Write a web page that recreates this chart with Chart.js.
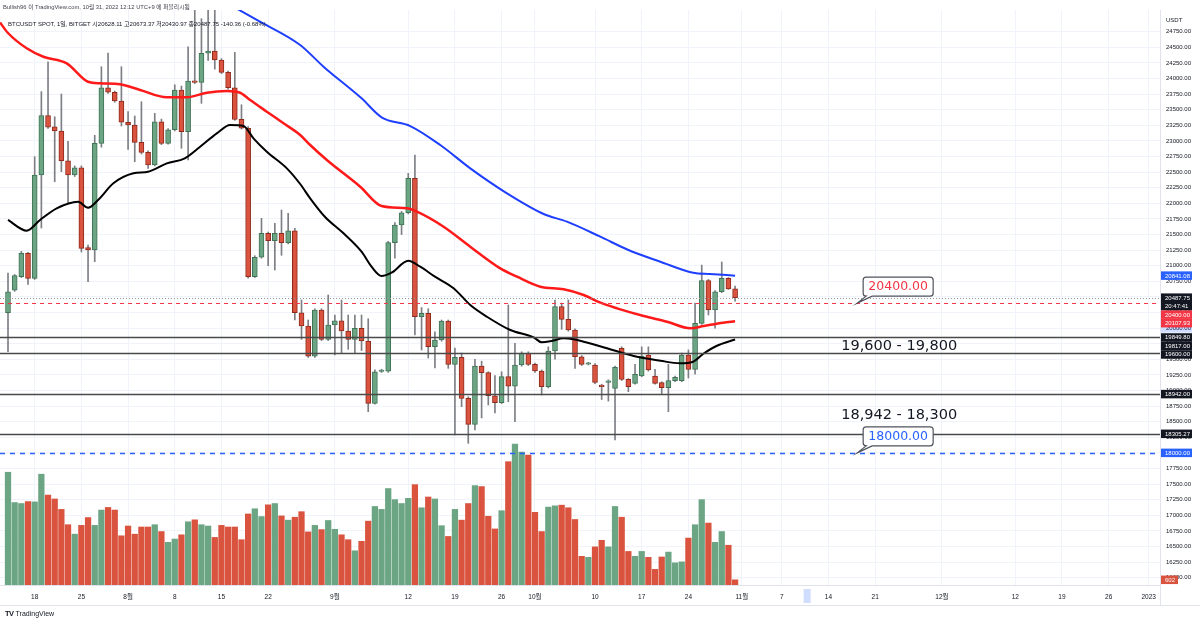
<!DOCTYPE html>
<html lang="ko">
<head>
<meta charset="UTF-8" />
<title>BTCUSDT SPOT, 1일, BITGET</title>
<script src="https://cdn.jsdelivr.net/npm/chart.js"></script>
<style>
  body { margin: 0; background: #ffffff; font-family: 'Liberation Sans', 'Noto Sans CJK KR', sans-serif; }
  .wrap { position: relative; width: 1200px; height: 620px; overflow: hidden; }
  canvas { position: absolute; left: 0; top: 0; }
  .header { position: absolute; left: 3px; top: 2px; font-size: 5.8px; color: #434651; white-space: nowrap; }
  .legend { position: absolute; left: 8px; top: 19px; font-size: 6px; color: #131722; white-space: nowrap; }
  .logo { position: absolute; left: 5px; top: 609px; font-size: 7px; color: #131722; white-space: nowrap; }
  .logo b { font-size: 7.5px; letter-spacing: -0.5px; margin-right: 2px; }
</style>
</head>
<body>
<div class="wrap">
  <canvas id="btc" width="1200" height="620"></canvas>
  <div class="header">Bullish96 이 TradingView.com, 10월 31, 2022 12:12 UTC+9 에 퍼블리시됨</div>
  <div class="legend" id="legend"></div>
  <div class="logo"><b>TV</b>TradingView</div>
</div>
<script>
  // daily candles, index 0 = 2022-07-14
  const opens = [20246, 20607, 20824, 21199, 20798, 22454, 23405, 23228, 23159, 22683,
    22454, 22571, 21289, 21252, 22962, 23853, 23780, 23640, 23299, 23255,
    22978, 22818, 22614, 23308, 22962, 23180, 23817, 23148, 23960, 23940,
    24405, 24440, 24297, 24100, 23853, 23347, 23203, 20824, 21135, 21519,
    21400, 21519, 21368, 21561, 20246, 20033, 19552, 20290, 19820, 20049,
    20118, 19953, 19820, 19996, 19793, 18794, 19305, 19310, 21369, 21652,
    21849, 22400, 20182, 20237, 19702, 19809, 20113, 19419, 19532, 18874,
    18458, 19392, 19285, 18916, 18804, 19221, 19071, 19408, 19596, 19419,
    19312, 19060, 19633, 20343, 20141, 19969, 19541, 19420, 19408, 19088,
    19131, 19035, 19676, 19179, 19115, 19232, 19568, 19232, 19125, 19045,
    19157, 19157, 19568, 19339, 20077, 20760, 20290, 20583, 20798, 20628.11];
  const highs = [20883, 20860, 21230, 21215, 22747, 23790, 24270, 23388, 23752, 22995,
    22600, 22600, 21330, 23090, 24190, 24408, 23800, 24190, 23469, 23400,
    23629, 22840, 23443, 23350, 23200, 23900, 23880, 24510, 25150, 24960,
    25150, 25150, 24320, 24120, 24420, 23580, 23230, 21160, 21760, 21540,
    21680, 21893, 21840, 21600, 20450, 20130, 20310, 20310, 20530, 20209,
    20450, 20210, 20210, 20210, 20150, 19330, 19340, 21390, 21690, 21870,
    22480, 22775, 20330, 20310, 19942, 20130, 20130, 19680, 19600, 18900,
    19500, 19470, 19300, 19240, 19300, 20370, 19756, 19620, 19620, 19440,
    19330, 19700, 20450, 20400, 20450, 19990, 19560, 19450, 19430, 19100,
    19170, 19390, 19700, 19190, 19420, 19700, 19700, 19340, 19140, 19420,
    19230, 19600, 19650, 20400, 21010, 20780, 20600, 21060, 20810, 20673.37];
  const lows = [19622, 20590, 20810, 20700, 20780, 21604, 23200, 22346, 22507, 22010,
    22430, 21220, 20744, 21064, 22900, 23760, 23620, 23239, 22866, 22667,
    22790, 22561, 22600, 22940, 22950, 23160, 22882, 22694, 23920, 23603,
    24290, 24150, 24080, 23830, 23330, 23190, 20800, 20810, 21120, 21000,
    20931, 21167, 21350, 20130, 19820, 19530, 19530, 19800, 19800, 19569,
    19600, 19660, 19605, 19640, 18660, 18780, 19290, 19290, 21120, 21500,
    21830, 19889, 19649, 19520, 19360, 19790, 19355, 18287, 18740, 18153,
    18366, 18560, 18767, 18640, 18790, 18820, 18499, 19390, 19400, 19290,
    18927, 19040, 19500, 19980, 19950, 19355, 19400, 19410, 19110, 18855,
    18830, 18206, 19160, 18980, 19100, 19220, 19310, 19100, 18950, 18660,
    19140, 19140, 19200, 19260, 20060, 20210, 20000, 20570, 20620, 20430.97];
  const closes = [20583, 20840, 21199, 20798, 22454, 23405, 23219, 23159, 22683, 22454,
    22571, 21279, 21252, 22962, 23853, 23780, 23640, 23299, 23255, 22978,
    22818, 22614, 23308, 22962, 23180, 23817, 23148, 23960, 23940, 24405,
    24440, 24297, 24100, 23853, 23347, 23203, 20824, 21135, 21519, 21400,
    21519, 21368, 21561, 20246, 20033, 19552, 20290, 19820, 20049, 20118,
    19953, 19820, 19996, 19793, 18794, 19301, 19315, 21369, 21652, 21849,
    22400, 20182, 20237, 19702, 19809, 20113, 19419, 19532, 18874, 18458,
    19392, 19285, 18916, 18804, 19221, 19071, 19408, 19596, 19419, 19312,
    19060, 19633, 20343, 20141, 19969, 19541, 19419, 19435, 19131, 19060,
    19152, 19371, 19179, 19060, 19260, 19553, 19328, 19115, 19045, 19157,
    19211, 19568, 19339, 20077, 20760, 20290, 20583, 20798, 20628.11, 20487.75];
  const volumes = [13080, 9563, 9450, 9677, 9639, 12852, 10433, 9979, 8770, 6993,
    5897, 6917, 7825, 6917, 8694, 8996, 8694, 5708, 6842, 5897,
    6728, 6728, 6993, 6199, 4952, 5330, 5821, 7333, 7560, 6993,
    6842, 5519, 6917, 6728, 6728, 5254, 8240, 8845, 7938, 9299,
    9450, 8014, 7522, 7862, 8505, 6161, 6917, 6426, 7484, 6464,
    5821, 5254, 3969, 5065, 7409, 9110, 8770, 11189, 9904, 9450,
    10055, 11642, 8959, 10206, 9979, 6880, 5632, 8770, 7522, 9450,
    11529, 11416, 7976, 6502, 8618, 14303, 16356, 15428, 15080, 8429,
    6199, 9034, 9185, 9261, 8959, 7598, 3326, 3213, 4423, 5179,
    4423, 9110, 7862, 3893, 3326, 3893, 3213, 1814, 3251, 3818,
    2570, 2684, 5443, 6993, 9904, 7182, 4952, 6199, 4612, 602];

  // moving averages at these candle positions
  const blackMaIdx = [0, 2.8, 4.8, 7.3, 10.5, 12, 13.5, 15.8, 18.8, 21, 23.8, 26.5, 28.8, 31.3, 33.3, 35.3, 36.8, 38.8,
    41.8, 43.8, 45.3, 47.5, 50.3, 53, 54.5, 56, 57.5, 60, 61.8, 64, 66.8, 69.3, 71.8, 75.3, 78.8, 80, 81.5, 83.3,
    84.8, 86.3, 89.8, 93.8, 97.8, 100.7, 102.7, 104.2, 106.2, 109];
  const blackMaVal = [21733, 21561, 21733, 21920, 22026, 21930, 22053, 22321, 22481, 22507, 22641, 22722, 22908,
    23122, 23255, 23239, 23042, 22827, 22561, 22310, 22080, 21785, 21519, 21224, 20984, 20835, 20888, 21080,
    20984, 20824, 20638, 20370, 20182, 19969, 19852, 19772, 19793, 19836, 19820, 19782, 19676, 19553, 19477,
    19435, 19461, 19585, 19713, 19817];
  const redMaIdx = [-1.2, 0, 2.8, 5.3, 8.8, 12, 13.8, 16.8, 19.8, 23.8, 26.8, 29.8, 32.8, 34.8, 36.3, 38.8, 41.3,
    43.8, 45.3, 47.8, 52.8, 56, 59.8, 61.3, 65.3, 69.3, 73.8, 76.3, 79.8, 83.3, 86.3, 88.8, 91.3, 95.3, 98.8,
    102.3, 104.3, 107.2, 109];
  const redMaVal = [24900, 24730, 24485, 24350, 24244, 23949, 23924, 23908, 23817, 23700, 23700, 23773, 23800,
    23773, 23656, 23469, 23283, 23095, 22935, 22694, 22266, 21957, 21920, 21866, 21625, 21305, 20958, 20824,
    20663, 20622, 20530, 20407, 20317, 20194, 20102, 19997, 20033, 20086, 20107.93];
  const blueMaIdx = [34, 37.3, 43.8, 47.3, 53, 56, 60.3, 64.8, 69.3, 74.8, 80.3, 83.8, 88.8, 93, 97.8, 102.7, 105.2, 109];
  const blueMaVal = [25140, 24939, 24538, 24190, 23683, 23379, 23239, 22935, 22561, 22161, 21829, 21706, 21465,
    21252, 21064, 20888, 20867, 20841.08];

  // drawn levels
  const levelPrices = [19849.8, 19600, 18942, 18305.27];
  const targetHigh = 20400;
  const targetLow = 18000;
  const rangeLabels = ['19,600 - 19,800', '18,942 - 18,300'];
  const rangeLabelPrices = [19710, 18607];

  // axis ticks
  const dateTickIdx = [4, 11, 18, 25, 32, 39, 49, 60, 67, 74, 79, 88, 95, 102, 110, 116, 123, 130, 140, 151, 158, 165, 171];
  const dateTickLabels = ['18', '25', '8월', '8', '15', '22', '9월', '12', '19', '26', '10월', '10', '17', '24',
    '11월', '7', '14', '21', '12월', '12', '19', '26', '2023'];
  const priceTicks = [];
  for (let p = 16000; p <= 24750; p += 250) priceTicks.push(p);

  const GREEN = '#6ba583', GREEN_EDGE = '#3f7356';
  const RED = '#d9533f', RED_EDGE = '#8e2a1c';
  const last = closes.length - 1;
  const up = closes.map((c, i) => c >= opens[i]);

  const chg = closes[last] - closes[last - 1];
  document.getElementById('legend').textContent =
    'BTCUSDT SPOT, 1일, BITGET  시' + opens[last].toFixed(2) + ' 고' + highs[last].toFixed(2) +
    ' 저' + lows[last].toFixed(2) + ' 종' + closes[last].toFixed(2) + ' ' + chg.toFixed(2) +
    ' (' + (chg / closes[last - 1] * 100).toFixed(2) + '%)';

  const clipArea = (ctx, a) => { ctx.beginPath(); ctx.rect(a.left, a.top, a.width, a.height); ctx.clip(); };

  const levelPlugin = {
    id: 'levels',
    afterDatasetsDraw(chart) {
      const { ctx, chartArea: a, scales: { y } } = chart;
      ctx.save();
      clipArea(ctx, a);
      const hline = (price, color, width, dash) => {
        const py = Math.round(y.getPixelForValue(price)) + 0.5;
        ctx.beginPath();
        ctx.setLineDash(dash);
        ctx.strokeStyle = color;
        ctx.lineWidth = width;
        ctx.moveTo(a.left, py);
        ctx.lineTo(a.right, py);
        ctx.stroke();
      };
      hline(closes[last], '#9598a1', 1, [1, 2]);
      hline(targetHigh, '#f23645', 1, [4, 4]);
      hline(targetLow, '#2962ff', 1.5, [5, 5]);
      levelPrices.forEach(p => hline(p, '#4a4a4a', 1.5, []));
      ctx.restore();
    }
  };

  const notePlugin = {
    id: 'notes',
    afterDatasetsDraw(chart) {
      const { ctx, scales: { x, y } } = chart;
      ctx.save();
      const callout = (idx, price, color) => {
        const ax = x.getPixelForValue(idx), ay = y.getPixelForValue(price);
        const l = ax + 6, b = ay - 7, w = 70, h = 19, t = b - h, r = 3;
        ctx.beginPath();
        ctx.moveTo(l + r, t);
        ctx.lineTo(l + w - r, t);
        ctx.quadraticCurveTo(l + w, t, l + w, t + r);
        ctx.lineTo(l + w, b - r);
        ctx.quadraticCurveTo(l + w, b, l + w - r, b);
        ctx.lineTo(l + 9, b);
        ctx.lineTo(ax, ay);
        ctx.lineTo(l + 3, b);
        ctx.quadraticCurveTo(l, b, l, b - r);
        ctx.lineTo(l, t + r);
        ctx.quadraticCurveTo(l, t, l + r, t);
        ctx.closePath();
        ctx.fillStyle = '#ffffff';
        ctx.fill();
        ctx.strokeStyle = '#50535e';
        ctx.lineWidth = 1.2;
        ctx.stroke();
        ctx.fillStyle = color;
        ctx.font = '12.5px "DejaVu Sans"';
        ctx.textAlign = 'center';
        ctx.textBaseline = 'middle';
        ctx.fillText(price.toFixed(2), l + w / 2, t + h / 2 + 0.5);
      };
      callout(127.3, targetHigh, '#f23645');
      callout(127.3, targetLow, '#2962ff');
      ctx.fillStyle = '#131722';
      ctx.font = '14.5px "DejaVu Sans"';
      ctx.textAlign = 'center';
      ctx.textBaseline = 'middle';
      rangeLabels.forEach((s, i) => ctx.fillText(s, x.getPixelForValue(133.6), y.getPixelForValue(rangeLabelPrices[i])));
      ctx.restore();
    }
  };

  const tagPlugin = {
    id: 'tags',
    afterDraw(chart) {
      const { ctx, chartArea: a, scales: { x, y, v } } = chart;
      ctx.save();
      // frame lines
      ctx.strokeStyle = '#e0e3eb';
      ctx.lineWidth = 1;
      ctx.beginPath();
      ctx.moveTo(0, 605.5); ctx.lineTo(1200, 605.5);
      ctx.moveTo(a.right + 0.5, a.bottom); ctx.lineTo(a.right + 0.5, 605);
      ctx.stroke();
      // selection marks on both axes
      ctx.fillStyle = 'rgba(41,98,255,0.22)';
      const sx = x.getPixelForValue(119.8);
      ctx.fillRect(sx - 3.5, a.bottom + 4, 7, 14);
      ctx.fillRect(a.right + 1, y.getPixelForValue(20000) - 4.5, 31, 9);

      ctx.font = '6px "Liberation Sans"';
      ctx.textBaseline = 'middle';
      ctx.textAlign = 'left';
      ctx.fillStyle = '#131722';
      ctx.fillText('USDT', a.right + 6, a.top + 10);

      const tags = [
        { p: y.getPixelForValue(blueMaVal[blueMaVal.length - 1]), bg: '#2962ff', t: blueMaVal[blueMaVal.length - 1].toFixed(2) },
        { p: y.getPixelForValue(closes[last]), bg: '#131722', t: closes[last].toFixed(2), sub: '20:47:41' },
        { p: y.getPixelForValue(targetHigh), bg: '#f23645', t: targetHigh.toFixed(2) },
        { p: y.getPixelForValue(redMaVal[redMaVal.length - 1]), bg: '#f23645', t: redMaVal[redMaVal.length - 1].toFixed(2) },
        { p: y.getPixelForValue(levelPrices[0]), bg: '#131722', t: levelPrices[0].toFixed(2) },
        { p: y.getPixelForValue(blackMaVal[blackMaVal.length - 1]), bg: '#131722', t: blackMaVal[blackMaVal.length - 1].toFixed(2) },
        { p: y.getPixelForValue(levelPrices[1]), bg: '#131722', t: levelPrices[1].toFixed(2) },
        { p: y.getPixelForValue(levelPrices[2]), bg: '#131722', t: levelPrices[2].toFixed(2) },
        { p: y.getPixelForValue(levelPrices[3]), bg: '#131722', t: levelPrices[3].toFixed(2) },
        { p: y.getPixelForValue(targetLow), bg: '#2962ff', t: targetLow.toFixed(2) },
        { p: v.getPixelForValue(volumes[last]), bg: RED, t: String(volumes[last]), w: 17 }
      ].sort((m, n) => m.p - n.p);
      const H = 8.5;
      let bottom = -Infinity;
      tags.forEach(tag => {
        const h = tag.sub ? 2 * H : H;
        let top = tag.p - H / 2;
        if (top < bottom) top = bottom;
        bottom = top + h;
        ctx.fillStyle = tag.bg;
        ctx.fillRect(a.right + 1, top, tag.w || 31, h);
        ctx.fillStyle = '#ffffff';
        ctx.fillText(tag.t, a.right + 5, top + H / 2 + 0.3);
        if (tag.sub) ctx.fillText(tag.sub, a.right + 5, top + H * 1.5 + 0.3);
      });
      ctx.restore();
    }
  };

  Chart.defaults.font.family = "'Liberation Sans', 'Noto Sans CJK KR', sans-serif";

  new Chart(document.getElementById('btc'), {
    type: 'bar',
    data: {
      datasets: [
        {
          type: 'line', label: 'MA black', yAxisID: 'y', order: 0,
          data: blackMaIdx.map((d, i) => ({ x: d, y: blackMaVal[i] })),
          borderColor: '#000000', borderWidth: 2, pointRadius: 0, cubicInterpolationMode: 'monotone'
        },
        {
          type: 'line', label: 'MA red', yAxisID: 'y', order: 0,
          data: redMaIdx.map((d, i) => ({ x: d, y: redMaVal[i] })),
          borderColor: '#ff1a1a', borderWidth: 2.5, pointRadius: 0, cubicInterpolationMode: 'monotone'
        },
        {
          type: 'line', label: 'MA blue', yAxisID: 'y', order: 0,
          data: blueMaIdx.map((d, i) => ({ x: d, y: blueMaVal[i] })),
          borderColor: '#1f3fff', borderWidth: 2, pointRadius: 0, cubicInterpolationMode: 'monotone'
        },
        {
          label: 'body', yAxisID: 'y', order: 2, grouped: false,
          data: opens.map((o, i) => ({ x: i, y: [o, closes[i]] })),
          backgroundColor: up.map(u => u ? GREEN : RED),
          borderColor: up.map(u => u ? GREEN_EDGE : RED_EDGE),
          borderWidth: 1, borderSkipped: false, barThickness: 5, minBarLength: 1.5
        },
        {
          label: 'wick', yAxisID: 'y', order: 3, grouped: false,
          data: lows.map((l, i) => ({ x: i, y: [l, highs[i]] })),
          backgroundColor: '#7d7f85', barThickness: 1
        },
        {
          label: 'volume', yAxisID: 'v', order: 5, grouped: false,
          data: volumes.map((vol, i) => ({ x: i, y: vol })),
          backgroundColor: up.map(u => u ? GREEN : RED),
          barThickness: 5.6
        }
      ]
    },
    options: {
      responsive: false,
      animation: false,
      devicePixelRatio: 1,
      layout: { padding: { top: 10 } },
      plugins: { legend: { display: false }, tooltip: { enabled: false } },
      scales: {
        x: {
          type: 'linear', min: -1.2, max: 172.7, bounds: 'data', offset: false,
          grid: { color: '#f0f3fa', drawTicks: false, offset: false },
          border: { color: '#e0e3eb' },
          ticks: {
            autoSkip: false, maxRotation: 0, padding: 8, color: '#131722', font: { size: 6.5 },
            callback: (val, i) => dateTickLabels[i]
          },
          afterBuildTicks: s => { s.ticks = dateTickIdx.map(d => ({ value: d })); },
          afterFit: s => { s.height = 35; }
        },
        y: {
          type: 'linear', position: 'right', min: 15882, max: 25099, bounds: 'data',
          grid: { color: '#f0f3fa', drawTicks: false },
          border: { color: '#e0e3eb' },
          ticks: { padding: 6, color: '#131722', font: { size: 6 }, callback: val => val.toFixed(2) },
          afterBuildTicks: s => { s.ticks = priceTicks.map(p => ({ value: p })); },
          afterFit: s => { s.width = 40; }
        },
        v: { type: 'linear', axis: 'y', position: 'left', display: false, min: 0, max: 66700 }
      }
    },
    plugins: [levelPlugin, notePlugin, tagPlugin]
  });
</script>
</body>
</html>
